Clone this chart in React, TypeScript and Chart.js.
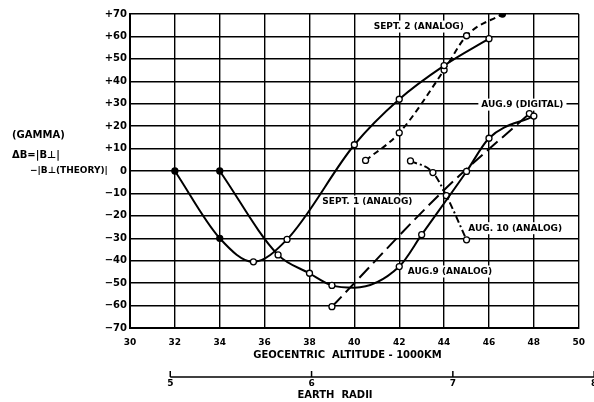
import React, { useEffect, useRef } from 'react';
import { Chart, registerables } from 'chart.js';

Chart.register(...registerables);

const FONT = '"DejaVu Sans", "Liberation Sans", sans-serif';

// ---- data ----
// marker codes: 'f' filled dot, 'o' open circle, '' no marker
const sept1X = [32, 34, 35.5, 37, 40, 42, 44, 46];
const sept1Y = [0, -30, -40.5, -30.5, 11.7, 32, 47, 59];
const sept1M = ['f', 'f', 'o', 'o', 'o', 'o', 'o', 'o'];

const sept2X = [40.5, 42, 44, 45, 46.6];
const sept2Y = [4.7, 17, 45, 60.3, 70];
const sept2M = ['o', 'o', 'o', 'o', 'f'];

const aug9AnalogX = [34, 36.6, 38, 39, 40, 42, 43, 45, 46, 48];
const aug9AnalogY = [0, -37.4, -45.6, -51, -52, -42.6, -28.4, -0.2, 14.6, 24.5];
const aug9AnalogM = ['f', 'o', 'o', 'o', '', 'o', 'o', 'o', 'o', 'o'];

const aug9DigitalX = [39, 44, 47.8];
const aug9DigitalY = [-60.5, -8.5, 25.6];
const aug9DigitalM = ['o', '', 'o'];

const aug10X = [42.5, 43.5, 44.1, 45];
const aug10Y = [4.5, -0.7, -11, -30.7];
const aug10M = ['o', 'o', 'o', 'o'];

// curve labels (data coordinates of label centres)
const labelText = ['SEPT. 2 (ANALOG)', 'AUG.9 (DIGITAL)', 'SEPT. 1 (ANALOG)', 'AUG. 10 (ANALOG)', 'AUG.9 (ANALOG)'];
const labelX = [42.87, 47.49, 40.58, 47.17, 44.26];
const labelY = [64.4, 29.6, -13.6, -25.5, -44.8];

// axes
const xMin = 30, xMax = 50, xStep = 2;
const yMin = -70, yMax = 70, yStep = 10;
const radiiTicks = [5, 6, 7, 8];
const radiiMin = 4.715, radiiMax = 7.891;

const xTitle = 'GEOCENTRIC  ALTITUDE - 1000KM';
const radiiTitle = 'EARTH  RADII';
const yTitleLines = ['(GAMMA)', 'ΔB=|B⊥|', '−|B⊥(THEORY)|'];

function pts(xs: number[], ys: number[]) {
  return xs.map((x, i) => ({ x, y: ys[i] }));
}

function ds(label: string, xs: number[], ys: number[], m: string[], dash: number[]) {
  return {
    label,
    data: pts(xs, ys),
    xAxisID: 'x',
    yAxisID: 'y',
    borderColor: '#000',
    borderWidth: 2,
    borderDash: dash,
    cubicInterpolationMode: 'monotone' as const,
    fill: false,
    pointRadius: m.map((c) => (c === '' ? 0 : 3)),
    pointBorderWidth: 1.3,
    pointBorderColor: '#000',
    pointBackgroundColor: m.map((c) => (c === 'f' ? '#000' : '#fff')),
  };
}

const decor = {
  id: 'decor',
  beforeDatasetsDraw(chart: any) {
    const { ctx, scales } = chart;
    const x = scales.x, y = scales.y;
    ctx.save();
    ctx.font = `bold 9px ${FONT}`;
    ctx.textAlign = 'center';
    ctx.textBaseline = 'middle';
    labelText.forEach((t, i) => {
      const px = x.getPixelForValue(labelX[i]);
      const py = y.getPixelForValue(labelY[i]);
      const w = ctx.measureText(t).width;
      ctx.fillStyle = '#fff';
      ctx.fillRect(px - w / 2 - 3, py - 6, w + 6, 12);
      ctx.fillStyle = '#000';
      ctx.fillText(t, px, py);
    });
    ctx.restore();
  },
  afterDraw(chart: any) {
    const { ctx, scales } = chart;
    const r = scales.radii;
    ctx.save();
    ctx.fillStyle = '#000';
    ctx.strokeStyle = '#000';
    // x title
    ctx.font = `bold 10px ${FONT}`;
    ctx.textAlign = 'center';
    ctx.textBaseline = 'middle';
    ctx.fillText(xTitle, 347.5, 355);
    // earth radii axis
    const y0 = 377;
    const startX = r.getPixelForValue(radiiTicks[0]);
    ctx.lineWidth = 1.5;
    ctx.beginPath();
    ctx.moveTo(startX, y0);
    ctx.lineTo(chart.width + 5, y0);
    ctx.stroke();
    ctx.font = `bold 9px ${FONT}`;
    radiiTicks.forEach((t) => {
      const px = r.getPixelForValue(t);
      ctx.beginPath();
      ctx.moveTo(px, y0 - 6);
      ctx.lineTo(px, y0);
      ctx.stroke();
      ctx.fillText(String(t), px, y0 + 7);
    });
    ctx.font = `bold 10px ${FONT}`;
    ctx.fillText(radiiTitle, 335, 395);
    // y title
    ctx.textAlign = 'left';
    ctx.fillText(yTitleLines[0], 12, 135);
    ctx.fillText(yTitleLines[1], 12, 155);
    ctx.font = `bold 9px ${FONT}`;
    ctx.fillText(yTitleLines[2], 30, 171);
    ctx.restore();
  },
};

export default function App() {
  const ref = useRef<HTMLCanvasElement | null>(null);
  useEffect(() => {
    if (!ref.current) return;
    const tickFont = { family: FONT, size: 10, weight: 'bold' as const };
    const chart = new Chart(ref.current, {
      type: 'line',
      data: {
        datasets: [
          ds('Sept. 1 (analog)', sept1X, sept1Y, sept1M, []),
          ds('Sept. 2 (analog)', sept2X, sept2Y, sept2M, [6, 4]),
          ds('Aug. 9 (analog)', aug9AnalogX, aug9AnalogY, aug9AnalogM, []),
          ds('Aug. 9 (digital)', aug9DigitalX, aug9DigitalY, aug9DigitalM, [14, 6]),
          ds('Aug. 10 (analog)', aug10X, aug10Y, aug10M, [7, 3, 2, 3]),
        ] as any,
      },
      options: {
        animation: false,
        responsive: false,
        devicePixelRatio: 1,
        layout: { padding: { left: 0, top: 14, right: 13.5, bottom: 0 } },
        plugins: { legend: { display: false }, tooltip: { enabled: false } },
        scales: {
          x: {
            type: 'linear',
            position: 'bottom',
            min: xMin,
            max: xMax,
            ticks: { stepSize: xStep, color: '#000', font: { ...tickFont, size: 9 }, padding: 9, maxRotation: 0 },
            grid: { color: '#000', lineWidth: 1.4, drawTicks: false },
            border: { color: '#000', width: 2 },
            afterFit: (s: any) => { s.height = 74; },
          },
          y: {
            type: 'linear',
            min: yMin,
            max: yMax,
            ticks: {
              stepSize: yStep,
              color: '#000',
              font: tickFont,
              padding: 3,
              callback: (v: any) => (v > 0 ? '+' + v : v < 0 ? '−' + Math.abs(v) : '0'),
            },
            grid: { color: '#000', lineWidth: 1.4, drawTicks: false },
            border: { color: '#000', width: 2 },
            afterFit: (s: any) => { s.width = 130; },
          },
          radii: {
            type: 'linear',
            axis: 'x',
            position: 'bottom',
            display: false,
            min: radiiMin,
            max: radiiMax,
          },
        } as any,
      },
      plugins: [decor],
    });
    return () => chart.destroy();
  }, []);
  return (
    <div style={{ position: 'fixed', left: 0, top: 0, width: 594, height: 402, background: '#fff' }}>
      <canvas ref={ref} width={594} height={402} style={{ display: 'block' }} />
    </div>
  );
}
